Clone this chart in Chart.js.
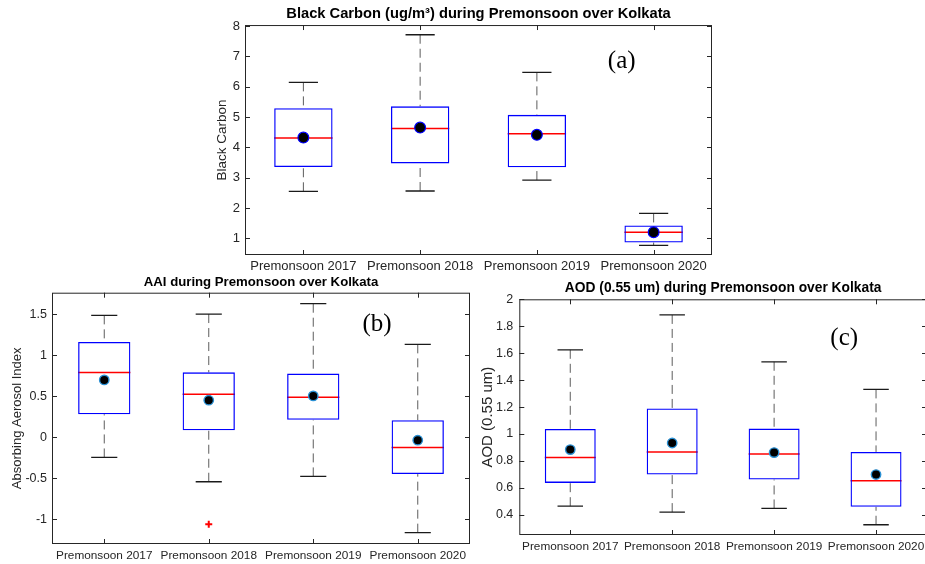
<!DOCTYPE html>
<html><head><meta charset="utf-8">
<script src="https://cdn.jsdelivr.net/npm/chart.js@4.4.1/dist/chart.umd.min.js"></script>
<style>
html,body{margin:0;padding:0;background:#fff;width:925px;height:564px;overflow:hidden;position:relative}
canvas{position:absolute}
</style></head><body>
<canvas id="cA" width="530" height="280" style="left:200px;top:0px;width:530px;height:280px"></canvas>
<canvas id="cB" width="490" height="294" style="left:0px;top:270px;width:490px;height:294px"></canvas>
<canvas id="cC" width="460" height="294" style="left:480px;top:270px;width:460px;height:294px"></canvas>
<script>
const categories = ['Premonsoon 2017', 'Premonsoon 2018', 'Premonsoon 2019', 'Premonsoon 2020'];

// (a) Black Carbon
const bcLow    = [2.55, 2.56, 2.92, 0.77];
const bcQ1     = [3.35, 3.47, 3.34, 0.86];
const bcMedian = [4.31, 4.62, 4.45, 1.20];
const bcQ3     = [5.29, 5.35, 5.07, 1.42];
const bcHigh   = [6.14, 7.71, 6.47, 1.82];
const bcMean   = [4.32, 4.65, 4.41, 1.20];
const bcTicks  = [1, 2, 3, 4, 5, 6, 7, 8];

// (b) Absorbing Aerosol Index
const aaiLow      = [-0.246, -0.542, -0.477, -1.162];
const aaiQ1       = [0.28, 0.086, 0.212, -0.449];
const aaiMedian   = [0.787, 0.524, 0.487, -0.125];
const aaiQ3       = [1.16, 0.79, 0.775, 0.208];
const aaiHigh     = [1.484, 1.50, 1.626, 1.131];
const aaiMean     = [0.698, 0.451, 0.503, -0.036];
const aaiOutliers = [null, -1.061, null, null];
const aaiTicks    = [-1, -0.5, 0, 0.5, 1, 1.5];

// (c) AOD 0.55 um
const aodLow    = [0.464, 0.42, 0.447, 0.326];
const aodQ1     = [0.637, 0.699, 0.662, 0.459];
const aodMedian = [0.825, 0.867, 0.852, 0.652];
const aodQ3     = [1.037, 1.19, 1.04, 0.867];
const aodHigh   = [1.625, 1.884, 1.536, 1.331];
const aodMean   = [0.884, 0.933, 0.862, 0.699];
const aodTicks  = [0.4, 0.6, 0.8, 1, 1.2, 1.4, 1.6, 1.8, 2];

Chart.defaults.font.family = "'Liberation Sans', Arial, sans-serif";

const boxPlugin = {
  id: 'boxparts',
  beforeDatasetsDraw(chart, args, o) {
    const ctx = chart.ctx, x = chart.scales.x, y = chart.scales.y;
    const meta = chart.getDatasetMeta(0);
    ctx.save();
    o.q1.forEach((_, i) => {
      const cx = x.getPixelForValue(i);
      const hw = meta.data[i].width / 2;
      const cw = hw / 2;
      ctx.setLineDash([9, 5]);
      ctx.strokeStyle = '#5c5c5c';
      ctx.lineWidth = 1;
      ctx.beginPath();
      ctx.moveTo(cx, y.getPixelForValue(o.high[i])); ctx.lineTo(cx, y.getPixelForValue(o.q3[i]));
      ctx.moveTo(cx, y.getPixelForValue(o.low[i])); ctx.lineTo(cx, y.getPixelForValue(o.q1[i]));
      ctx.stroke();
      ctx.setLineDash([]);
      ctx.strokeStyle = '#1a1a1a';
      ctx.lineWidth = 1.3;
      ctx.beginPath();
      const yh = y.getPixelForValue(o.high[i]), yl = y.getPixelForValue(o.low[i]);
      ctx.moveTo(cx - cw, yh); ctx.lineTo(cx + cw, yh);
      ctx.moveTo(cx - cw, yl); ctx.lineTo(cx + cw, yl);
      ctx.stroke();
      ctx.strokeStyle = '#ff0000';
      ctx.lineWidth = 1.5;
      const ym = y.getPixelForValue(o.median[i]);
      ctx.beginPath();
      ctx.moveTo(cx - hw, ym); ctx.lineTo(cx + hw, ym);
      ctx.stroke();
    });
    ctx.restore();
  },
  afterDraw(chart, args, o) {
    const ctx = chart.ctx, a = chart.chartArea, x = chart.scales.x, y = chart.scales.y;
    ctx.save();
    ctx.strokeStyle = '#262626';
    ctx.lineWidth = 1;
    ctx.strokeRect(a.left + 0.5, a.top + 0.5, a.right - a.left - 1, a.bottom - a.top - 1);
    ctx.beginPath();
    y.ticks.forEach(t => {
      const py = Math.round(y.getPixelForValue(t.value)) + 0.5;
      ctx.moveTo(a.left, py); ctx.lineTo(a.left + 5, py);
      ctx.moveTo(a.right - 5, py); ctx.lineTo(a.right, py);
    });
    categories.forEach((c, i) => {
      const px = Math.round(x.getPixelForValue(i)) + 0.5;
      ctx.moveTo(px, a.bottom); ctx.lineTo(px, a.bottom - 5);
      ctx.moveTo(px, a.top); ctx.lineTo(px, a.top + 5);
    });
    ctx.stroke();
    ctx.fillStyle = '#000';
    ctx.font = "25px 'Liberation Serif', 'Times New Roman', serif";
    ctx.textAlign = 'center';
    ctx.textBaseline = 'middle';
    ctx.fillText(o.tag, a.left + o.tagX * (a.right - a.left), a.top + o.tagY * (a.bottom - a.top));
    ctx.restore();
  }
};

function boxChart(id, s) {
  const datasets = [
    { type: 'bar', data: s.q1.map((v, i) => [v, s.q3[i]]), backgroundColor: 'rgba(0,0,0,0)',
      borderColor: '#0000ff', borderWidth: 1.3, borderSkipped: false,
      barPercentage: 0.5, categoryPercentage: 1, order: 3 },
    { type: 'line', data: s.mean, showLine: false, pointRadius: s.meanR, pointHoverRadius: s.meanR,
      pointBackgroundColor: '#000', pointBorderColor: s.meanEdge, pointBorderWidth: s.meanEdgeW, order: 1 }
  ];
  if (s.outliers) datasets.push({ type: 'line', data: s.outliers, showLine: false, pointStyle: 'cross',
      pointRadius: 3.5, pointBorderColor: '#ff0000', pointBorderWidth: 2, order: 2 });
  return new Chart(document.getElementById(id), {
    type: 'bar',
    data: { labels: categories, datasets },
    plugins: [boxPlugin],
    options: {
      responsive: false, animation: false, devicePixelRatio: 1,
      layout: { padding: { left: 0, right: s.padR, top: 0, bottom: 0 } },
      plugins: {
        legend: { display: false }, tooltip: { enabled: false },
        title: { display: true, text: s.title, fullSize: false, color: '#000',
          font: { size: s.titleSize, weight: 'bold' }, padding: s.titlePad },
        boxparts: { q1: s.q1, q3: s.q3, median: s.median, low: s.low, high: s.high,
          tag: s.tag, tagX: s.tagX, tagY: s.tagY }
      },
      scales: {
        x: {
          grid: { display: false, drawTicks: false, tickLength: 0 }, border: { display: false },
          ticks: { color: '#262626', font: { size: s.xFont }, padding: s.xPad, maxRotation: 0, autoSkip: false },
          afterFit(sc) { sc.height = s.xH; }
        },
        y: {
          type: 'linear', min: s.yMin, max: s.yMax,
          grid: { display: false, drawTicks: false, tickLength: 0 }, border: { display: false },
          ticks: { color: '#262626', font: { size: s.yFont }, padding: s.yPad,
            callback: v => String(Math.round(v * 100) / 100) },
          afterBuildTicks(sc) { sc.ticks = s.ticks.map(v => ({ value: v })); },
          title: { display: true, text: s.yTitle, color: '#262626', font: s.yTitleFont, padding: { top: s.yTitlePad, bottom: 0 } },
          afterFit(sc) { sc.width = s.yW; }
        }
      }
    }
  });
}

boxChart('cA', {
  q1: bcQ1, q3: bcQ3, median: bcMedian, low: bcLow, high: bcHigh, mean: bcMean, ticks: bcTicks,
  yMin: 0.45, yMax: 8.03, title: 'Black Carbon (ug/m³) during Premonsoon over Kolkata',
  titleSize: 14.7, titlePad: { top: 5.2, bottom: 2.2 },
  yTitle: 'Black Carbon', yTitleFont: { size: 13.5 }, yTitlePad: 14,
  yFont: 13, yPad: 5, xFont: 13, xPad: 4, yW: 45, xH: 25, padR: 18,
  meanR: 5.4, meanEdge: '#0000ff', meanEdgeW: 1.2, tag: '(a)', tagX: 0.8066, tagY: 0.16
});

boxChart('cB', {
  q1: aaiQ1, q3: aaiQ3, median: aaiMedian, low: aaiLow, high: aaiHigh, mean: aaiMean, ticks: aaiTicks,
  outliers: aaiOutliers,
  yMin: -1.3, yMax: 1.76, title: 'AAI during Premonsoon over Kolkata',
  titleSize: 13.2, titlePad: { top: 4.8, bottom: 2.06 },
  yTitle: 'Absorbing Aerosol Index', yTitleFont: { size: 13 }, yTitlePad: 9.5,
  yFont: 12.5, yPad: 5, xFont: 11.8, xPad: 4.8, yW: 52, xH: 20, padR: 20,
  meanR: 4.7, meanEdge: '#2a90d4', meanEdgeW: 1.4, tag: '(b)', tagX: 0.7775, tagY: 0.1244
});

boxChart('cC', {
  q1: aodQ1, q3: aodQ3, median: aodMedian, low: aodLow, high: aodHigh, mean: aodMean, ticks: aodTicks,
  yMin: 0.25, yMax: 2, title: 'AOD (0.55 um) during Premonsoon over Kolkata',
  titleSize: 13.8, titlePad: { top: 9.7, bottom: 3.04 },
  yTitle: 'AOD (0.55 um)', yTitleFont: { size: 15, lineHeight: 1 }, yTitlePad: 0,
  yFont: 12.5, yPad: 6, xFont: 11.8, xPad: 4.6, yW: 39.3, xH: 29, padR: 13,
  meanR: 4.7, meanEdge: '#2a90d4', meanEdgeW: 1.4, tag: '(c)', tagX: 0.797, tagY: 0.1655
});
</script>
</body></html>
